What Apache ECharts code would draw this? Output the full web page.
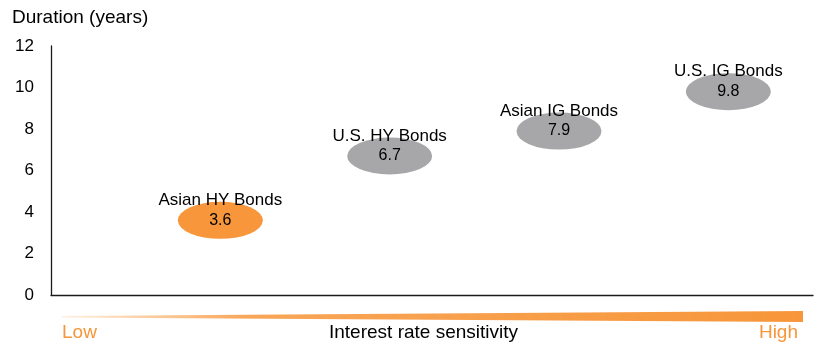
<!DOCTYPE html>
<html><head><meta charset="utf-8">
<script src="https://cdn.jsdelivr.net/npm/echarts@6/dist/echarts.min.js"></script>
<style>html,body{margin:0;padding:0;background:#fff}#c{width:836px;height:357px}</style>
</head><body><div id="c"></div>
<script>
const names = ['Asian HY Bonds', 'U.S. HY Bonds', 'Asian IG Bonds', 'U.S. IG Bonds'];
const positions = [1, 2, 3, 4];
const durations = [3.6, 6.7, 7.9, 9.8];
const colors = ['#F7963A', '#A7A7A9', '#A7A7A9', '#A7A7A9'];
const yTicks = [0, 2, 4, 6, 8, 10, 12];

const FONT = '"Liberation Sans", Arial, sans-serif';
const chart = echarts.init(document.getElementById('c'), null, {renderer: 'canvas'});
const ellipse = 'path://M0,50 A50,50 0 1,1 100,50 A50,50 0 1,1 0,50 Z';
chart.setOption({
  animation: false,
  textStyle: {fontFamily: FONT},
  grid: {left: 51, right: 23, top: 46, bottom: 62, containLabel: false},
  xAxis: {type: 'value', min: 0, max: 4.5, show: true,
    axisLine: {show: true, onZero: false, lineStyle: {color: '#1a1a1a', width: 1.3}},
    axisTick: {show: false}, axisLabel: {show: false}, splitLine: {show: false}},
  yAxis: {type: 'value', min: yTicks[0], max: yTicks[yTicks.length - 1], interval: 2,
    axisLine: {show: true, lineStyle: {color: '#1a1a1a', width: 1.3}},
    axisTick: {show: false}, splitLine: {show: false},
    axisLabel: {color: '#000', fontSize: 17, fontFamily: FONT, margin: 17}},
  graphic: [
    {type: 'text', left: 12, top: 8, style: {text: 'Duration (years)', fontSize: 19, fontFamily: FONT, fill: '#000'}},
    {type: 'polygon', shape: {points: [[62, 316], [803, 311], [803, 322], [62, 317.5]]},
      style: {fill: new echarts.graphic.LinearGradient(0, 0, 1, 0, [
        {offset: 0, color: 'rgba(247,150,58,0.15)'},
        {offset: 0.25, color: 'rgba(247,150,58,0.85)'},
        {offset: 1, color: '#F7963A'}])}},
    {type: 'text', left: 62, top: 323, style: {text: 'Low', fontSize: 19, fontFamily: FONT, fill: '#F7963A'}},
    {type: 'text', left: 329, top: 323, style: {text: 'Interest rate sensitivity', fontSize: 19, fontFamily: FONT, fill: '#000'}},
    {type: 'text', right: 38, top: 323, style: {text: 'High', fontSize: 19, fontFamily: FONT, fill: '#F7963A'}}
  ],
  series: [{
    type: 'scatter',
    symbol: ellipse,
    symbolSize: [85, 37],
    itemStyle: {opacity: 1},
    data: positions.map((x, i) => ({name: names[i], value: [x, durations[i]], itemStyle: {color: colors[i], opacity: 1}})),
    label: {show: true, position: 'inside', offset: [0, -10], opacity: 1,
      formatter: p => '{n|' + p.name + '}\n{v|' + p.value[1].toFixed(1) + '}',
      rich: {n: {fontSize: 17, fontFamily: FONT, color: '#000', lineHeight: 20, align: 'center'},
             v: {fontSize: 16, fontFamily: FONT, color: '#000', lineHeight: 20, align: 'center'}}}
  }]
});
</script></body></html>
